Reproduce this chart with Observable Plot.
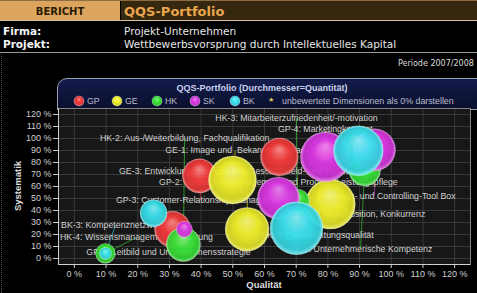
<!DOCTYPE html>
<html><head><meta charset="utf-8">
<script src="https://cdn.jsdelivr.net/npm/d3@7"></script>
<script src="https://cdn.jsdelivr.net/npm/@observablehq/plot@0.6"></script>
<style>
html,body{margin:0;padding:0;background:#000;}
#page{position:relative;width:477px;height:293px;overflow:hidden;background:#000;font-family:"DejaVu Sans",sans-serif;}
.a{position:absolute;white-space:nowrap;}
.c{transform:translateY(-50%);}
.lg{font-family:"Liberation Sans",Arial,sans-serif;font-size:8.8px;color:#b9bccb;}
#chart svg{position:absolute;left:0;top:0;}
</style></head>
<body><div id="page">
  <div class="a" style="left:0;top:0;width:477px;height:1px;background:#8c6c44"></div>
  <div class="a" style="left:0;top:1px;width:120px;height:19px;background:#dca45c"></div>
  <div class="a" style="left:121px;top:1px;width:356px;height:19px;background:#36270f"></div>
  <div class="a" style="left:0;top:20px;width:477px;height:1px;background:#d6c6a6"></div>
  <div class="a c" style="left:0;width:120px;top:11px;text-align:center;font-weight:bold;font-size:10px;color:#2a1a04">BERICHT</div>
  <div class="a c" style="left:124px;top:11px;font-weight:bold;font-size:13px;color:#eaa64c">QQS-Portfolio</div>
  <div class="a c" style="left:3px;top:31px;font-size:10.5px;color:#f6f6f6;font-weight:600">Firma:</div>
  <div class="a c" style="left:3px;top:44px;font-size:10.5px;color:#f6f6f6;font-weight:600">Projekt:</div>
  <div class="a c" style="left:124px;top:31px;font-size:10.5px;color:#e6e6e6">Projekt-Unternehmen</div>
  <div class="a c" style="left:124px;top:44px;font-size:10.5px;color:#e6e6e6">Wettbewerbsvorsprung durch Intellektuelles Kapital</div>
  <div class="a" style="left:0;top:52px;width:477px;height:1px;background:#9a9a9a"></div>
  <div class="a" style="left:1px;top:54px;width:0;height:239px;border-left:1px dotted #555"></div>
  <div class="a c" style="left:398px;top:63px;font-size:8px;color:#dddddd">Periode 2007/2008</div>
  <div class="a" style="left:57px;top:78px;width:430px;height:30px;border:1px solid #9aa0b0;border-radius:10px 0 0 0;background:linear-gradient(#141c4c,#0a0f2c)"></div>
  <div id="chart"></div>
  <div id="overlay"></div>
</div>
<script>
// ---- data ----
const groups = ["GP", "GE", "HK", "SK", "BK"];
const ids = ["GP-1","GP-2","GP-3","GP-4","GE-1","GE-2","GE-3","HK-1","HK-2","HK-3","HK-4","SK-1","SK-2","SK-3","SK-4","BK-1","BK-2","BK-3","BK-4"];
const names = [
  "Leitbild und Unternehmensstrategie",
  "Innovationsmanagement und Produkt-/Leistungspflege",
  "Customer-Relationship-Management",
  "Marketingkonzept",
  "Image und  Bekanntheitsgrad",
  "Marktposition, Konkurrenz",
  "Entwicklungspotenzial der Geschäftsfeld- und Kundenbasis",
  "Unternehmerische Kompetenz",
  "Aus-/Weiterbildung, Fachqualifikation",
  "Mitarbeiterzufriedenheit/-motivation",
  "Wissensmanagement/-sicherung",
  "Planungs- und Controlling-Tool Box",
  "Dienstleistungsqualität",
  "", "", "", "",
  "Kompetenznetzwerke",
  ""
];
// Qualität (%), Systematik (%), Quantität (diameter)
const quality    = [31.0, 64.7, 39.5, 79.2, 49.9, 80.8, 54.5, 91.6, 34.4, 70.4, 9.8, 94.7, 79.2, 64.4, 34.7, 89.6, 70.1, 9.8, 25.0];
const systematik = [24.3, 84.7, 68.8, 89.8, 65.4, 45.3, 24.3, 73.8, 11.7, 47.8, 4.2, 90.6, 84.7, 50.3, 24.3, 89.8, 25.2, 4.2, 37.8];
const quantity   = [60, 63, 57, 30, 80, 83, 73, 53, 57, 40, 33, 70, 83, 70, 27, 83, 88, 20, 45];
// label anchors (in % units on both axes)
const labelQual = [29.7, 64.4, 39.8, 79.2, 50.8, 90.6, 54.6, 90.3, 34.8, 70.1, 19.6, 94.7, 76.7, null, null, null, null, 13.0, null];
const labelSyst = [5.0, 63.8, 48.7, 107.4, 89.9, 37.0, 73.0, 7.6, 100.5, 116.6, 17.6, 52.0, 19.3, null, null, null, null, 27.7, null];
const xTicks = [0, 10, 20, 30, 40, 50, 60, 70, 80, 90, 100, 110, 120];
const yTicks = [0, 10, 20, 30, 40, 50, 60, 70, 80, 90, 100, 110, 120];
const legendNote = "unbewertete Dimensionen als 0% darstellen";
const chartTitle = "QQS-Portfolio (Durchmesser=Quantität)";

// ---- styles ----
const groupColors = {GP: "#f53a3a", GE: "#f2f22a", HK: "#38e438", SK: "#de38e6", BK: "#38e2ee"};

const dims = ids.map((id, i) => ({
  id, group: id.slice(0, 2), x: quality[i], y: systematik[i], q: quantity[i],
  label: names[i] ? id + ": " + names[i] : "", lx: labelQual[i], ly: labelSyst[i]
}));
const labeled = dims.filter(d => d.label && d.lx != null);

const chart = Plot.plot({
  width: 477, height: 293,
  marginTop: 108, marginRight: 7, marginBottom: 29, marginLeft: 58,
  x: {domain: [-5, 125]},
  y: {domain: [-5, 125]},
  r: {type: "linear", domain: [0, 100], range: [0, 30]},
  style: {background: "transparent", color: "#cfcfcf", fontFamily: "'Liberation Sans', Arial, sans-serif", fontSize: "9px"},
  marks: [
    Plot.frame({fill: "#171717"}),
    Plot.gridX({ticks: xTicks, stroke: "#3a3a3a", strokeOpacity: 1}),
    Plot.gridY({ticks: yTicks, stroke: "#3a3a3a", strokeOpacity: 1}),
    Plot.axisX({ticks: xTicks, tickFormat: d => d + " %", tickSize: 4, tickPadding: 2, label: null, fontSize: 9}),
    Plot.axisY({ticks: yTicks, tickFormat: d => d + " %", tickSize: 5, tickPadding: 2, label: null, fontSize: 9}),
    Plot.frame({stroke: "#858585"}),
    Plot.ruleX([-5], {stroke: "#cfcfcf"}),
    Plot.ruleY([-5], {stroke: "#cfcfcf"}),
    ...groups.map(g => Plot.link(labeled.filter(d => d.group === g), {
      x1: "x", y1: "y", x2: "lx", y2: "ly", stroke: groupColors[g], strokeOpacity: 0.6, strokeWidth: 1
    })),
    Plot.text(labeled, {x: "lx", y: "ly", text: "label", fill: "#d2d2d2", fontSize: 8.8}),
    ...groups.map(g => Plot.dot(dims.filter(d => d.group === g), {
      x: "x", y: "y", r: "q", fill: `url(#grad-${g})`, fillOpacity: 0.95,
      stroke: "#ffffff", strokeOpacity: 0.25, strokeWidth: 0.8
    }))
  ]
});

// glossy gradients
const defs = d3.select(chart).insert("defs", ":first-child");
groups.forEach(g => {
  const c = d3.color(groupColors[g]);
  const mix = t => d3.interpolateRgb(c, "#ffffff")(t);
  const rg = defs.append("radialGradient").attr("id", "grad-" + g)
    .attr("cx", "50%").attr("cy", "50%").attr("r", "50%").attr("fx", "50%").attr("fy", "28%");
  [[0, mix(0.4)], [0.5, c.formatHex()], [0.87, c.darker(0.3).formatHex()], [1, mix(0.4)]]
    .forEach(([o, col]) => rg.append("stop").attr("offset", o).attr("stop-color", col));
});
document.getElementById("chart").append(chart);

// title, legend, axis titles
const ov = d3.select("#overlay");
ov.append("div").attr("class", "a c").style("left", "57px").style("width", "410px").style("top", "88px")
  .style("text-align", "center").style("font-family", "'Liberation Sans',Arial,sans-serif")
  .style("font-weight", "bold").style("font-size", "9px").style("color", "#c9d3ee").text(chartTitle);
const legendX = {GP: 79, GE: 117, HK: 157, SK: 195, BK: 235};
groups.forEach(g => {
  const s = ov.append("svg").attr("class", "a").attr("width", 12).attr("height", 12)
    .style("left", (legendX[g] - 6) + "px").style("top", "95px");
  s.append("circle").attr("cx", 6).attr("cy", 6).attr("r", 5).attr("fill", `url(#grad-${g})`)
    .attr("stroke", "#fff").attr("stroke-opacity", 0.25);
  ov.append("div").attr("class", "a c lg").style("left", (legendX[g] + 8) + "px").style("top", "101px").text(g);
});
ov.append("div").attr("class", "a c").style("left", "268px").style("top", "100px")
  .style("font-size", "7px").style("color", "#d8c060").text("★");
ov.append("div").attr("class", "a c lg").style("left", "282px").style("top", "101px").text(legendNote);
ov.append("div").attr("class", "a c").style("left", "58px").style("width", "412px").style("top", "284px")
  .style("text-align", "center").style("font-family", "'Liberation Sans',Arial,sans-serif")
  .style("font-weight", "bold").style("font-size", "9.5px").style("color", "#dcdcdc").text("Qualität");
ov.append("div").attr("class", "a").style("left", "17px").style("top", "186px")
  .style("transform", "translate(-50%,-50%) rotate(-90deg)").style("font-family", "'Liberation Sans',Arial,sans-serif")
  .style("font-weight", "bold").style("font-size", "9.5px").style("color", "#dcdcdc").text("Systematik");
</script>
</body></html>
